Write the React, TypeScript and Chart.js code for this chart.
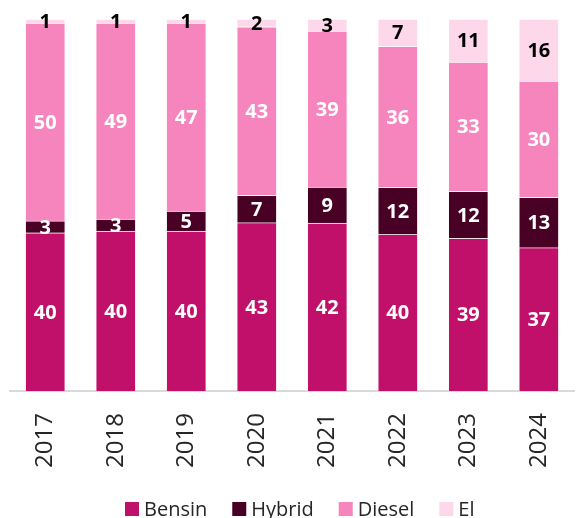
import React, { useEffect, useRef } from "react";
import { Chart, registerables } from "chart.js";

Chart.register(...registerables);

const years = ["2017", "2018", "2019", "2020", "2021", "2022", "2023", "2024"];
const bensin = [40, 40, 40, 43, 42, 40, 39, 37];
const hybrid = [3, 3, 5, 7, 9, 12, 12, 13];
const diesel = [50, 49, 47, 43, 39, 36, 33, 30];
const el = [1, 1, 1, 2, 3, 7, 11, 16];

const seriesNames = ["Bensin", "Hybrid", "Diesel", "El"];
const seriesValues = [bensin, hybrid, diesel, el];
const seriesColors = ["#C0106A", "#490025", "#F585BC", "#FDD8EA"];
const labelColors = ["#FFFFFF", "#FFFFFF", "#FFFFFF", "#000000"];

const totals = years.map((_, i) => seriesValues.reduce((s, arr) => s + arr[i], 0));

const FONT = "'Open Sans', 'Noto Sans', sans-serif";

const valueLabelPlugin = {
  id: "valueLabels",
  afterDatasetsDraw(chart: any) {
    const ctx = chart.ctx;
    ctx.save();
    ctx.font = `bold 20px ${FONT}`;
    ctx.textAlign = "center";
    ctx.textBaseline = "middle";
    chart.data.datasets.forEach((ds: any, di: number) => {
      const meta = chart.getDatasetMeta(di);
      meta.data.forEach((el: any, i: number) => {
        const raw = ds.rawValues[i];
        const yc = (el.y + el.base) / 2;
        ctx.fillStyle = labelColors[di];
        ctx.fillText(String(raw), el.x, yc + 1);
      });
    });
    ctx.restore();
  },
};

const legendPlugin = {
  id: "customLegend",
  afterDraw(chart: any) {
    const ctx = chart.ctx;
    ctx.save();
    ctx.font = `20px ${FONT}`;
    ctx.textBaseline = "alphabetic";
    ctx.textAlign = "left";
    let x = 125;
    const boxTop = 502;
    chart.data.datasets.forEach((ds: any, di: number) => {
      ctx.fillStyle = seriesColors[di];
      ctx.fillRect(x, boxTop, 14, 14);
      ctx.fillStyle = "#262626";
      const tx = x + 19;
      ctx.fillText(ds.label, tx, 516);
      x = tx + ctx.measureText(ds.label).width + 25;
    });
    ctx.restore();
  },
};

export default function App() {
  const ref = useRef<HTMLCanvasElement | null>(null);
  useEffect(() => {
    if (!ref.current) return;
    const chart = new Chart(ref.current, {
      type: "bar",
      data: {
        labels: years,
        datasets: seriesNames.map((name, si) => ({
          label: name,
          data: seriesValues[si].map((v, i) => (v / totals[i]) * 100),
          rawValues: seriesValues[si],
          backgroundColor: seriesColors[si],
          borderColor: "rgba(255,255,255,0.45)",
          borderWidth: 1,
          barThickness: 40,
        })) as any,
      },
      options: {
        animation: false,
        responsive: false,
        devicePixelRatio: 1,
        layout: { padding: { top: 19, left: 10, right: 6, bottom: 28 } },
        scales: {
          x: {
            stacked: true,
            grid: { display: false, drawTicks: false },
            border: { display: true, color: "#D9D9D9", width: 2 },
            ticks: {
              minRotation: 90,
              maxRotation: 90,
              padding: 22,
              color: "#262626",
              font: { family: FONT, size: 24 },
            },
          },
          y: {
            stacked: true,
            display: false,
            min: 0,
            max: 100,
          },
        },
        plugins: {
          legend: { display: false },
          tooltip: { enabled: false },
        },
      },
      plugins: [valueLabelPlugin, legendPlugin],
    });
    return () => chart.destroy();
  }, []);
  return (
    <div
      style={{
        position: "fixed",
        left: 0,
        top: 0,
        width: 580,
        height: 518,
        overflow: "hidden",
        background: "#fff",
      }}
    >
      <canvas ref={ref} width={590} height={518} style={{ display: "block" }} />
    </div>
  );
}
